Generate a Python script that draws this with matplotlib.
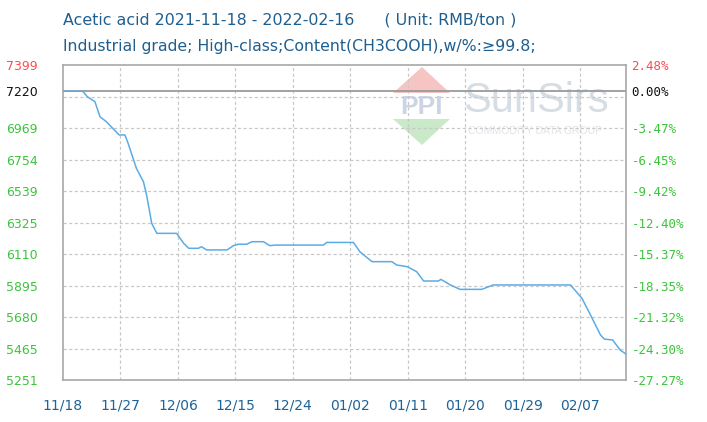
import matplotlib
matplotlib.use("Agg")
import matplotlib.pyplot as plt
from matplotlib.patches import Polygon
import datetime as dt

# ---- data ----
start_date = dt.date(2021, 11, 18)
day_offsets = [0, 3.1, 3.8, 5.0, 5.8, 6.8, 8.8, 9.7, 10.2, 11.5, 12.6, 13.1, 13.9, 14.7,
               17.8, 18.9, 19.7, 21.2, 21.7, 22.5, 25.7, 26.7, 27.5, 28.8, 29.6, 31.4,
               32.4, 33.2, 40.8, 41.3, 45.5, 46.5, 48.4, 51.5, 52.3, 53.9, 55.4, 56.5,
               58.8, 59.2, 60.7, 62.2, 65.6, 67.4, 79.5, 81.3, 82.9, 84.2, 84.8, 86.1,
               87.3, 88.2]
prices = [7220, 7220, 7183, 7149, 7046, 7012, 6922, 6922, 6865, 6694, 6603, 6512, 6319, 6251,
          6251, 6183, 6149, 6149, 6160, 6138, 6138, 6167, 6177, 6177, 6194, 6194,
          6167, 6171, 6171, 6189, 6189, 6126, 6058, 6058, 6035, 6024, 5990, 5926,
          5926, 5937, 5899, 5869, 5869, 5899, 5899, 5808, 5672, 5558, 5530, 5524,
          5455, 5428]
base_price = 7220
y_top, y_bottom = 7399, 5251
left_ticks = [7399, 7220, 6969, 6754, 6539, 6325, 6110, 5895, 5680, 5465, 5251]
grid_levels = [7184, 6969, 6754, 6539, 6325, 6110, 5895, 5680, 5465]
pct_labels = ["2.48%", "0.00%", "-3.47%", "-6.45%", "-9.42%", "-12.40%", "-15.37%",
              "-18.35%", "-21.32%", "-24.30%", "-27.27%"]
x_tick_days = [0, 9, 18, 27, 36, 45, 54, 63, 72, 81]
x_tick_labels = ["11/18", "11/27", "12/06", "12/15", "12/24", "01/02", "01/11",
                 "01/20", "01/29", "02/07"]
x_end = 88.2

title = "Acetic acid 2021-11-18 - 2022-02-16      ( Unit: RMB/ton )"
subtitle = "Industrial grade; High-class;Content(CH3COOH),w/%:\u226599.8;"

# ---- figure ----
W, H = 707, 422
fig = plt.figure(figsize=(W / 100, H / 100), dpi=100)
ax = fig.add_axes([63 / W, 1 - 380 / H, (626 - 63) / W, (380 - 65) / H])

ax.set_xlim(0, x_end)
ax.set_ylim(y_bottom, y_top)


def fp(x, y):
    return (x / W, 1 - y / H)


# watermark (inside axes, beneath grid)
ax.add_patch(Polygon([fp(393, 93), fp(422, 67), fp(450, 93)], closed=True,
                     transform=fig.transFigure, color="#f7c4c4", lw=0, zorder=0.2))
ax.add_patch(Polygon([fp(393, 119), fp(450, 119), fp(422, 145)], closed=True,
                     transform=fig.transFigure, color="#c9e9c9", lw=0, zorder=0.2))
ax.text(421.5 / W, 1 - 107 / H, "PPI", fontsize=19, color="#ccd5e6", ha="center", va="center",
        family="Liberation Sans", fontweight="bold", transform=fig.transFigure, zorder=0.3)
ax.text(536 / W, 1 - 101 / H, "SunSirs", fontsize=30, color="#d6dde5", ha="center", va="center",
        family="Liberation Sans", transform=fig.transFigure, zorder=0.3)
ax.text(535 / W, 1 - 131 / H, "COMMODITY DATA GROUP", fontsize=7.5, color="#dfe4ea",
        ha="center", va="center", family="Liberation Sans", transform=fig.transFigure,
        zorder=0.3)

for g in grid_levels:
    ax.axhline(g, color="#c8c8c8", lw=0.9, ls=(0, (2.5, 2)), zorder=1)
for d in x_tick_days[1:]:
    ax.axvline(d, color="#c8c8c8", lw=0.9, ls=(0, (2.5, 2)), zorder=1)
ax.axhline(base_price, color="#9a9a9a", lw=1.3, zorder=2)

ax.plot(day_offsets, prices, color="#5aace6", lw=1.1, zorder=3)

for sp in ax.spines.values():
    sp.set_color("#a8a8a8")
    sp.set_linewidth(1.2)

ax.set_yticks(left_ticks)
ax.set_yticklabels([str(v) for v in left_ticks], fontsize=9, family="DejaVu Sans")
for lbl, v in zip(ax.get_yticklabels(), left_ticks):
    lbl.set_color("#ff4b4b" if v > base_price else ("#111111" if v == base_price else "#3cc43c"))
    lbl.set_horizontalalignment("left")
ax.tick_params(axis="y", length=0, pad=57 / 1.389)

ax.set_xticks(x_tick_days)
ax.set_xticklabels(x_tick_labels, fontsize=10, color="#1d6398")
ax.tick_params(axis="x", length=0, pad=13)

ax2 = ax.twinx()
ax2.set_ylim(y_bottom, y_top)
ax2.set_yticks(left_ticks)
ax2.set_yticklabels(pct_labels, fontsize=9, family="DejaVu Sans Mono")
for lbl, v in zip(ax2.get_yticklabels(), left_ticks):
    lbl.set_color("#ff4b4b" if v > base_price else ("#111111" if v == base_price else "#3cc43c"))
ax2.tick_params(axis="y", length=0, pad=4)
for sp in ax2.spines.values():
    sp.set_visible(False)

fig.text(63 / W, 1 - 20 / H, title, fontsize=11.4, color="#1f5f8f", ha="left", va="center")
fig.text(63 / W, 1 - 46 / H, subtitle, fontsize=11.3, color="#1f5f8f", ha="left", va="center")

fig.savefig("out.png", dpi=100)
